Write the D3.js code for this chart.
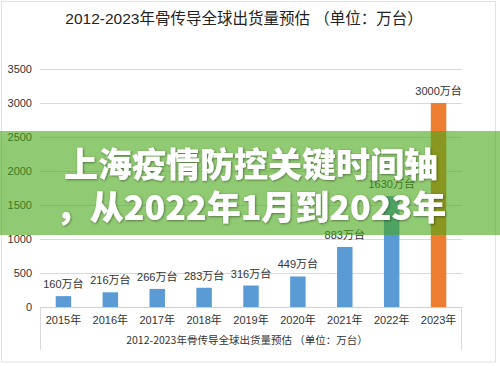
<!DOCTYPE html>
<html><head><meta charset="utf-8">
<script src="https://cdn.jsdelivr.net/npm/d3@7"></script>
<style>
html,body{margin:0;padding:0;background:#fff;}
svg{display:block;}
</style></head>
<body>
<svg id="chart" width="500" height="366"></svg>
<script>
const titleText = "2012-2023年骨传导全球出货量预估 （单位：万台）";
const categories = ["2015年","2016年","2017年","2018年","2019年","2020年","2021年","2022年","2023年"];
const values = [160,216,266,283,316,449,883,1630,3000];
const valueLabels = ["160万台","216万台","266万台","283万台","316万台","449万台","883万台","1630万台","3000万台"];
const barColors = ["#5b9bd5","#5b9bd5","#5b9bd5","#5b9bd5","#5b9bd5","#5b9bd5","#5b9bd5","#5b9bd5","#ed7d31"];
const yTicks = [0,500,1000,1500,2000,2500,3000,3500];
const bannerLines = ["上海疫情防控关键时间轴","，从2022年1月到2023年"];

(function(){
const svg = d3.select("#chart");
const W = 500, H = 366;
const pl = 40, pr = 462, pt = 69, pb = 307;
const font = "'Liberation Sans','Noto Sans CJK SC',sans-serif";

// outer frame
svg.append("rect").attr("x",1.5).attr("y",1.5).attr("width",494).attr("height",360.5)
  .attr("fill","#fff").attr("stroke","#e2e2e2").attr("stroke-width",1);

// title
svg.append("text").attr("x",244).attr("y",24).attr("text-anchor","middle")
  .attr("font-family",font).attr("font-size",15.5).attr("fill","#222").text(titleText);

const x = d3.scaleBand().domain(categories).range([pl,pr]).paddingInner(0.67).paddingOuter(0.335);
const y = d3.scaleLinear().domain([0,3500]).range([pb,pt]);

// gridlines
const grid = svg.append("g").attr("transform",`translate(${pl},0)`)
  .call(d3.axisLeft(y).tickValues(yTicks).tickSize(-(pr-pl)).tickFormat(""));
grid.select(".domain").remove();
grid.selectAll(".tick line").attr("stroke","#d9d9d9").attr("stroke-width",1);

// y tick labels
const ya = svg.append("g").attr("transform",`translate(${pl},0)`)
  .call(d3.axisLeft(y).tickValues(yTicks).tickSize(0).tickPadding(8).tickFormat(d3.format("d")));
ya.select(".domain").remove();
ya.selectAll("text").attr("font-family",font).attr("font-size",11).attr("fill","#333");

// x axis box
const xa = svg.append("g").attr("transform",`translate(0,${pb})`)
  .call(d3.axisBottom(x).tickSize(0).tickPadding(9));
xa.select(".domain").attr("stroke","#d0d0d0");
xa.selectAll("text").attr("font-family",font).attr("font-size",11).attr("fill","#333");
svg.append("line").attr("x1",pl+0.5).attr("x2",pl+0.5).attr("y1",pb).attr("y2",350).attr("stroke","#d9d9d9");
svg.append("line").attr("x1",pr-0.5).attr("x2",pr-0.5).attr("y1",pb).attr("y2",350).attr("stroke","#d9d9d9");
svg.append("text").attr("x",247).attr("y",344).attr("text-anchor","middle")
  .attr("font-family","'Noto Sans CJK SC',sans-serif").attr("font-size",10.5).attr("fill","#333").text(titleText);

// bars
svg.append("g").selectAll("rect").data(values).join("rect")
  .attr("x",(d,i)=>x(categories[i])).attr("width",x.bandwidth())
  .attr("y",d=>y(d)).attr("height",d=>pb-y(d))
  .attr("fill",(d,i)=>barColors[i]);

// value labels
svg.append("g").selectAll("text").data(values).join("text")
  .attr("x",(d,i)=>x(categories[i])+x.bandwidth()/2)
  .attr("y",d=>y(d)-8).attr("text-anchor","middle")
  .attr("font-family",font).attr("font-size",11).attr("fill","#333")
  .text((d,i)=>valueLabels[i]);

// banner overlay
const defs = svg.append("defs");
const f = defs.append("filter").attr("id","sh").attr("x","-10%").attr("y","-20%").attr("width","120%").attr("height","140%");
f.append("feDropShadow").attr("dx",0.8).attr("dy",0.8).attr("stdDeviation",1.2).attr("flood-color","#000").attr("flood-opacity",0.45);

svg.append("rect").attr("x",0).attr("y",131).attr("width",W).attr("height",104)
  .attr("fill","rgb(70,166,20)").attr("opacity",0.6);

svg.append("g").attr("filter","url(#sh)").selectAll("text").data(bannerLines).join("text")
  .attr("x",251).attr("y",(d,i)=>177+i*43).attr("text-anchor","middle")
  .attr("font-family","'Noto Sans CJK SC',sans-serif").attr("font-weight",900)
  .attr("font-size",34).attr("fill","#fff").text(d=>d);
})();
</script>
</body></html>
